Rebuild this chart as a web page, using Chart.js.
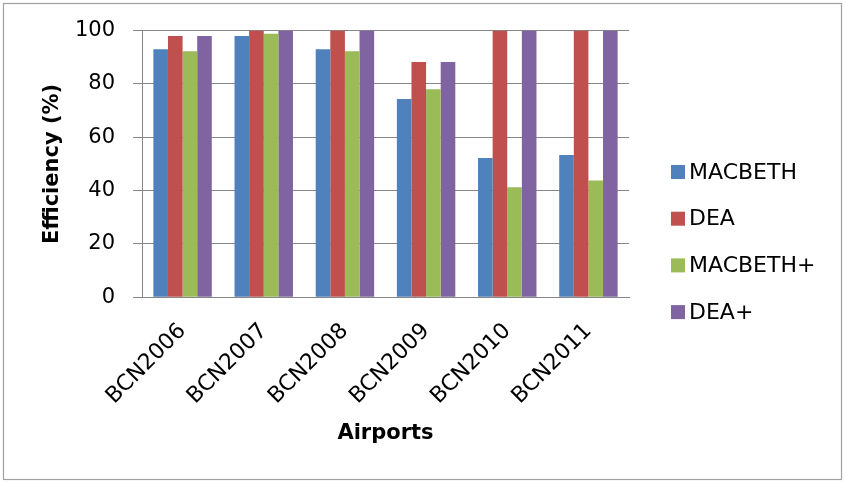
<!DOCTYPE html>
<html>
<head>
<meta charset="utf-8">
<title>Efficiency by airport-year</title>
<script src="https://cdn.jsdelivr.net/npm/chart.js@4/dist/chart.umd.min.js"></script>
<style>
  html, body { margin: 0; padding: 0; background: #ffffff; }
  #wrap { width: 845px; height: 483px; }
</style>
</head>
<body>
<div id="wrap"><canvas id="chart" width="845" height="483"></canvas></div>
<script>
// Airport-year categories
const categories = ['BCN2006', 'BCN2007', 'BCN2008', 'BCN2009', 'BCN2010', 'BCN2011'];

// Efficiency scores (%) per method
const macbeth     = [93, 98, 93, 74.4, 52.2, 53.4];
const dea         = [98, 100, 100, 88.2, 100, 100];
const macbethPlus = [92.3, 98.8, 92.3, 78, 41.3, 43.8];
const deaPlus     = [98, 100, 100, 88.2, 100, 100];

const seriesNames = ['MACBETH', 'DEA', 'MACBETH+', 'DEA+'];
const seriesColors = ['#4F81BD', '#C0504D', '#9BBB59', '#8064A2'];

// Y-axis tick values
const yTicks = [0, 20, 40, 60, 80, 100];

const GRID = '#868686';
const FONT = "'DejaVu Sans', sans-serif";

// White page with a thin grey frame around the whole figure
const framePlugin = {
  id: 'frame',
  beforeDraw(chart) {
    const ctx = chart.ctx;
    ctx.save();
    ctx.fillStyle = '#ffffff';
    ctx.fillRect(0, 0, chart.width, chart.height);
    ctx.strokeStyle = '#a0a0a0';
    ctx.lineWidth = 1.2;
    ctx.strokeRect(3.5, 3.5, chart.width - 7, chart.height - 7);
    ctx.restore();
  }
};

// Legend stacked on the right, one square swatch per series
const sideLegend = {
  id: 'sideLegend',
  afterDraw(chart) {
    const ctx = chart.ctx;
    ctx.save();
    ctx.font = "22px " + FONT;
    ctx.textBaseline = 'middle';
    ctx.textAlign = 'left';
    chart.data.datasets.forEach((ds, i) => {
      const cy = 172 + i * 46.7;
      ctx.fillStyle = ds.backgroundColor;
      ctx.fillRect(671, cy - 7, 14, 14);
      ctx.fillStyle = '#000000';
      ctx.fillText(ds.label, 689, cy + 1);
    });
    ctx.restore();
  }
};

const values = [macbeth, dea, macbethPlus, deaPlus];

new Chart(document.getElementById('chart'), {
  type: 'bar',
  data: {
    labels: categories,
    datasets: seriesNames.map((name, i) => ({
      label: name,
      data: values[i],
      backgroundColor: seriesColors[i],
      borderWidth: 0,
      categoryPercentage: 0.72,
      barPercentage: 1.0
    }))
  },
  options: {
    responsive: false,
    animation: false,
    devicePixelRatio: 1,
    layout: { padding: { left: 20, top: 29, right: 216, bottom: 28 } },
    plugins: {
      legend: { display: false },
      tooltip: { enabled: false }
    },
    scales: {
      x: {
        grid: { display: false },
        border: { display: true, color: GRID, width: 1 },
        ticks: {
          minRotation: 45,
          maxRotation: 45,
          padding: 13,
          color: '#000000',
          font: { family: FONT, size: 22 }
        },
        title: {
          display: true,
          text: 'Airports',
          color: '#000000',
          font: { family: FONT, size: 21, weight: 'bold' },
          padding: { top: 0, bottom: 9 }
        },
        afterFit(scale) { scale.height = 483 - 28 - 297.3; }
      },
      y: {
        min: 0,
        max: 100,
        afterBuildTicks(scale) { scale.ticks = yTicks.map(v => ({ value: v })); },
        grid: { color: GRID, lineWidth: 1, drawTicks: true, tickLength: 9 },
        border: { display: true, color: GRID, width: 1 },
        ticks: {
          padding: 18,
          color: '#000000',
          font: { family: FONT, size: 21 }
        },
        title: {
          display: true,
          text: 'Efficiency (%)',
          color: '#000000',
          font: { family: FONT, size: 21, weight: 'bold' },
          padding: { top: 20, bottom: 0 }
        },
        afterFit(scale) { scale.width = 122; }
      }
    }
  },
  plugins: [framePlugin, sideLegend]
});
</script>
</body>
</html>
